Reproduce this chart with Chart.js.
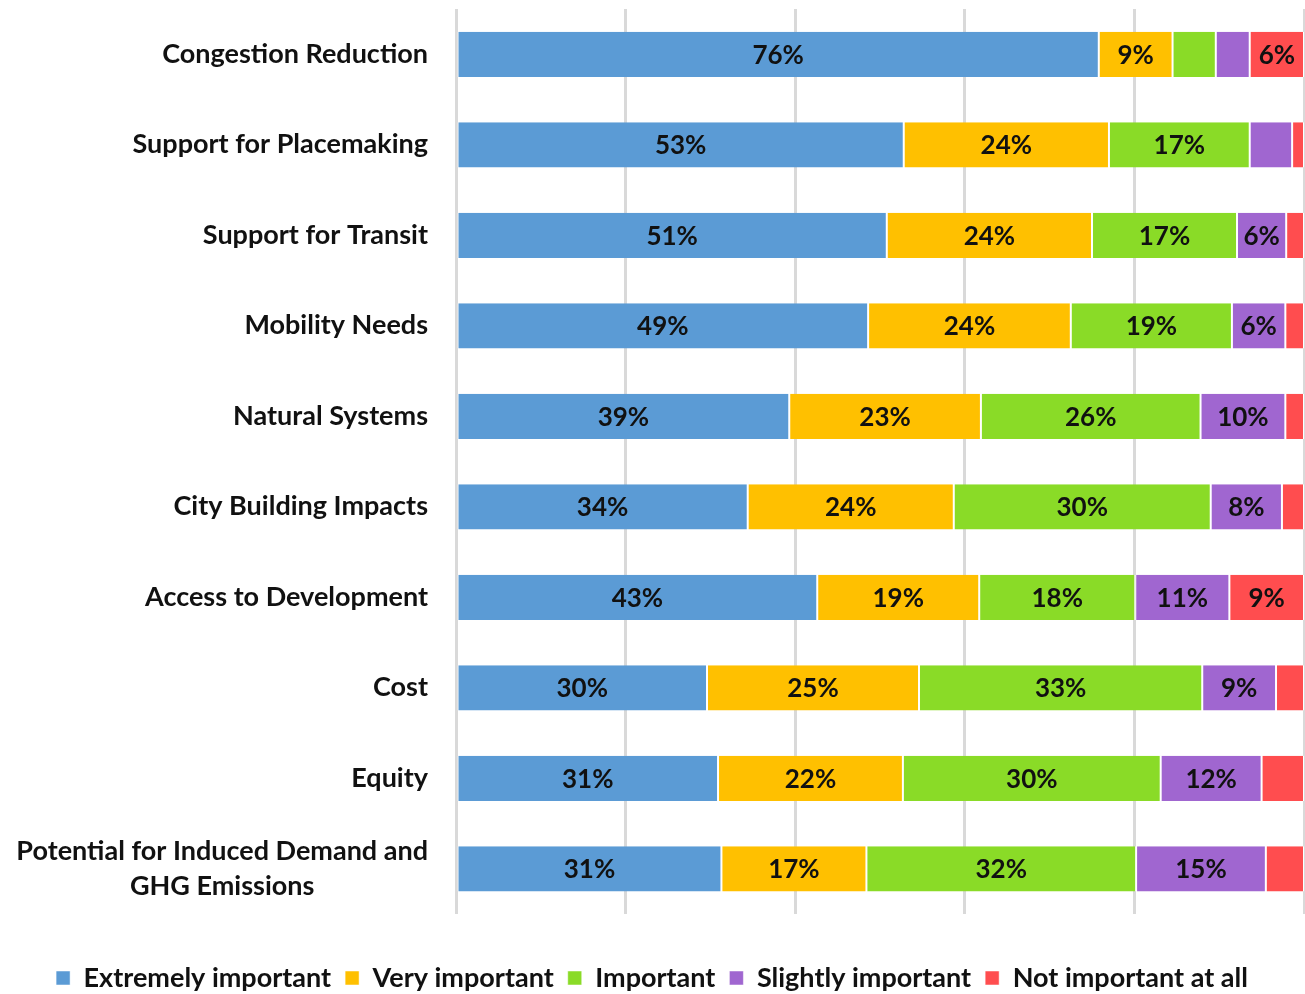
<!DOCTYPE html>
<html>
<head>
<meta charset="utf-8">
<script src="https://cdn.jsdelivr.net/npm/chart.js@4"></script>
<style>
  html, body { margin: 0; padding: 0; background: #fff; }
  #wrap { width: 1305px; height: 994px; }
</style>
</head>
<body>
<div id="wrap"><canvas id="chart"></canvas></div>
<script>
const categories = [
  "Congestion Reduction",
  "Support for Placemaking",
  "Support for Transit",
  "Mobility Needs",
  "Natural Systems",
  "City Building Impacts",
  "Access to Development",
  "Cost",
  "Equity",
  ["Potential for Induced Demand and", "GHG Emissions"]
];
const seriesNames = ["Extremely important", "Very important", "Important", "Slightly important", "Not important at all"];
const extremely = [75.8, 52.8, 50.8, 48.6, 39.3, 34.4, 42.6, 29.6, 30.9, 31.3];
const very      = [8.7, 24.2, 24.2, 23.9, 22.6, 24.3, 19.1, 25.0, 21.8, 17.1];
const important = [5.1, 16.6, 17.1, 19.0, 25.9, 30.3, 18.4, 33.4, 30.4, 31.8];
const slightly  = [4.0, 5.0, 5.8, 6.3, 10.0, 8.4, 11.1, 8.7, 11.9, 15.3];
const notAtAll  = [6.4, 1.4, 2.1, 2.2, 2.2, 2.6, 8.8, 3.3, 5.0, 4.5];
const colors = ["#5B9BD5", "#FFC000", "#8ADB27", "#A066D0", "#FF4D4F"];
const xTicks = [0, 20, 40, 60, 80, 100];

const FONT = "Lato, 'Open Sans', sans-serif";
const LABEL_SIZE = 27;

// % labels in the middle of each segment
const segmentLabels = {
  id: "segmentLabels",
  afterDatasetsDraw(chart) {
    const ctx = chart.ctx;
    ctx.save();
    ctx.font = "bold 26px " + FONT;
    ctx.fillStyle = "#111";
    ctx.textAlign = "center";
    ctx.textBaseline = "middle";
    chart.data.datasets.forEach((ds, i) => {
      const meta = chart.getDatasetMeta(i);
      meta.data.forEach((bar, j) => {
        const v = ds.data[j];
        if (v < 5.5) return;
        ctx.fillText(Math.round(v) + "%", (bar.x + bar.base) / 2, bar.y + 1);
      });
    });
    ctx.restore();
  }
};

// excel centres the 2nd line of a wrapped category label under the 1st one
const centeredWrap = {
  id: "centeredWrap",
  afterDraw(chart) {
    const s = chart.scales.y;
    const ctx = chart.ctx;
    ctx.save();
    ctx.font = "bold " + LABEL_SIZE + "px " + FONT;
    ctx.fillStyle = "#111";
    ctx.textAlign = "center";
    ctx.textBaseline = "middle";
    categories.forEach((c, i) => {
      if (!Array.isArray(c)) return;
      const right = s.right - 28;
      const w = ctx.measureText(c[0]).width;
      const lh = LABEL_SIZE * 1.3;
      const y = s.getPixelForTick(i);
      for (let k = 1; k < c.length; k++) {
        ctx.fillText(c[k], right - w / 2, y - lh * (c.length - 1) / 2 + lh * k);
      }
    });
    ctx.restore();
  }
};

const allSeries = [extremely, very, important, slightly, notAtAll];
new Chart(document.getElementById("chart"), {
  type: "bar",
  data: {
    labels: categories,
    datasets: allSeries.map((d, i) => ({
      label: seriesNames[i],
      data: d,
      backgroundColor: colors[i],
      borderColor: "#ffffff",
      borderWidth: { left: 1, right: 1, top: 0, bottom: 0 },
      borderSkipped: false,
      barPercentage: 0.5,
      categoryPercentage: 1.0
    }))
  },
  options: {
    indexAxis: "y",
    responsive: true,
    maintainAspectRatio: false,
    animation: false,
    layout: { padding: { top: 9, right: 1, left: 0, bottom: -7.5 } },
    scales: {
      x: {
        stacked: true,
        min: 0,
        max: 100,
        afterBuildTicks: s => { s.ticks = xTicks.map(v => ({ value: v })); },
        ticks: { display: false },
        grid: { color: "#D9D9D9", lineWidth: 3, drawTicks: false },
        border: { display: false }
      },
      y: {
        stacked: true,
        afterFit: s => { s.width = 456; s.paddingTop = 0; s.paddingBottom = 0; },
        grid: { display: false, drawTicks: false },
        border: { display: false },
        ticks: {
          padding: 28,
          color: "#111",
          callback: function (v, i) {
            const c = categories[i];
            return Array.isArray(c) ? [c[0], ...c.slice(1).map(() => "")] : c;
          },
          font: { family: FONT, size: LABEL_SIZE, weight: "bold", lineHeight: 1.3 }
        }
      }
    },
    plugins: {
      legend: {
        position: "bottom",
        title: { display: true, text: "", font: { size: 10, lineHeight: 1 }, padding: { top: 26.5, bottom: 0 } },
        labels: {
          boxWidth: 14,
          boxHeight: 14,
          padding: 14,
          color: "#111",
          font: { family: FONT, size: 27, weight: "bold" }
        }
      },
      tooltip: { enabled: false }
    }
  },
  plugins: [segmentLabels, centeredWrap]
});
</script>
</body>
</html>
